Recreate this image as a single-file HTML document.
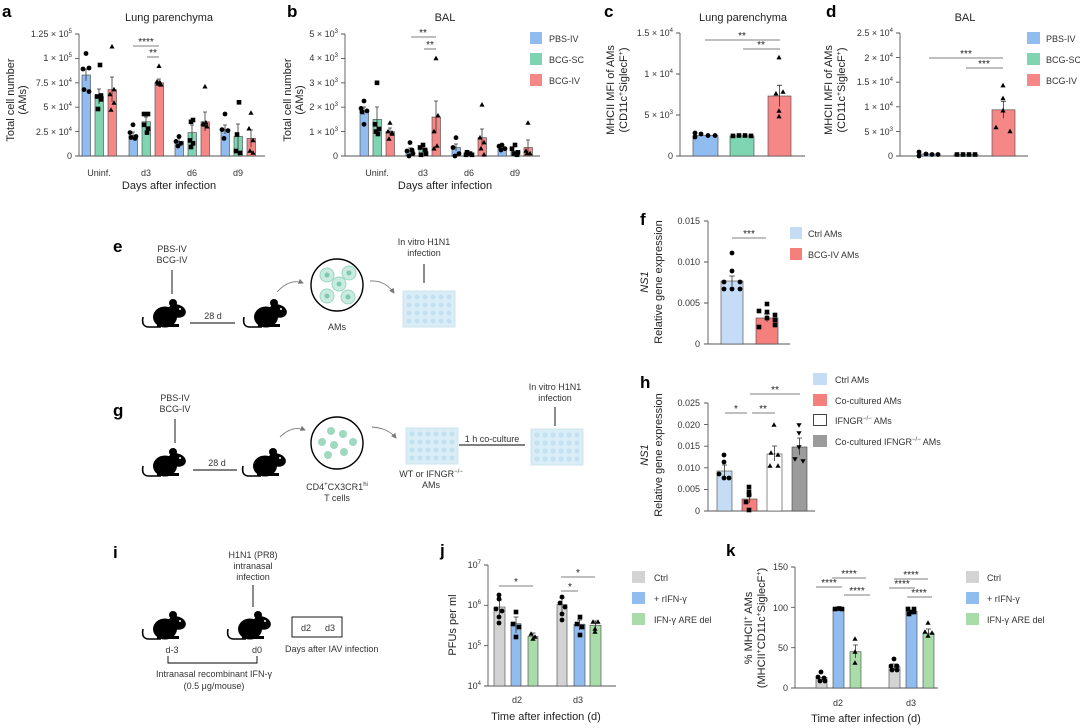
<!DOCTYPE html>
<html><head><meta charset="utf-8"><style>
html,body{margin:0;padding:0;background:#fff}
svg{display:block;font-family:"Liberation Sans",sans-serif}
.t{font-size:9px;fill:#333}
.l{font-size:11px;fill:#222}
.L{font-size:17px;font-weight:bold;fill:#000}
.s{font-size:10px;fill:#222}
.ax{stroke:#555;stroke-width:0.9;fill:none}
.eb{stroke:#333;stroke-width:0.8;fill:none}
.sig{stroke:#555;stroke-width:0.8}
</style></head><body>
<svg width="1080" height="728" viewBox="0 0 1080 728" xmlns="http://www.w3.org/2000/svg">
<defs>
<path id="tri" d="M0,-2.8 L2.6,1.8 L-2.6,1.8Z" fill="#000"/>
<path id="itri" d="M0,2.8 L2.6,-1.8 L-2.6,-1.8Z" fill="#000"/>
<rect id="sq" x="-2.3" y="-2.3" width="4.6" height="4.6" fill="#000"/>
<circle id="dot" r="2.4" fill="#000"/>
<g id="mouse">
<path d="M2,20 Q0,30 8,30 L20,30" stroke="#000" stroke-width="1.6" fill="none"/>
<ellipse cx="24" cy="20" rx="12" ry="10.5" fill="#000"/>
<ellipse cx="36" cy="14" rx="9" ry="6.5" transform="rotate(15 36 14)" fill="#000"/>
<circle cx="32" cy="6" r="4" fill="#000"/>
<rect x="16" y="27" width="22" height="3" fill="#000"/>
<circle cx="39" cy="12" r="1" fill="#fff"/>
</g>
<g id="plate">
<rect x="0" y="0" width="52" height="36" fill="#d9edf7" stroke="#cfe4ee"/>
<g fill="#c2e0ef">
<circle cx="6" cy="6" r="2.5"/><circle cx="14" cy="6" r="2.5"/><circle cx="22" cy="6" r="2.5"/><circle cx="30" cy="6" r="2.5"/><circle cx="38" cy="6" r="2.5"/><circle cx="46" cy="6" r="2.5"/>
<circle cx="6" cy="14" r="2.5"/><circle cx="14" cy="14" r="2.5"/><circle cx="22" cy="14" r="2.5"/><circle cx="30" cy="14" r="2.5"/><circle cx="38" cy="14" r="2.5"/><circle cx="46" cy="14" r="2.5"/>
<circle cx="6" cy="22" r="2.5"/><circle cx="14" cy="22" r="2.5"/><circle cx="22" cy="22" r="2.5"/><circle cx="30" cy="22" r="2.5"/><circle cx="38" cy="22" r="2.5"/><circle cx="46" cy="22" r="2.5"/>
<circle cx="6" cy="30" r="2.5"/><circle cx="14" cy="30" r="2.5"/><circle cx="22" cy="30" r="2.5"/><circle cx="30" cy="30" r="2.5"/><circle cx="38" cy="30" r="2.5"/><circle cx="46" cy="30" r="2.5"/>
</g></g>
<marker id="ar" markerWidth="6" markerHeight="6" refX="5" refY="3" orient="auto"><path d="M0,0 L6,3 L0,6Z" fill="#777"/></marker>
</defs>

<!-- ===== Panel a ===== -->
<text class="L" x="2" y="17">a</text>
<text class="l" x="169" y="21" text-anchor="middle" font-size="12">Lung parenchyma</text>
<g class="ax"><path d="M79,34 V156 H265"/><path d="M75,34H79M75,58.4H79M75,82.8H79M75,107.2H79M75,131.6H79M75,156H79"/></g>
<g class="t" text-anchor="end">
<text x="72" y="37">1.25 × 10<tspan font-size="6" dy="-4">5</tspan></text>
<text x="72" y="61">1 × 10<tspan font-size="6" dy="-4">5</tspan></text>
<text x="72" y="86">7.5 × 10<tspan font-size="6" dy="-4">4</tspan></text>
<text x="72" y="110">5 × 10<tspan font-size="6" dy="-4">4</tspan></text>
<text x="72" y="135">2.5 × 10<tspan font-size="6" dy="-4">4</tspan></text>
<text x="72" y="159">0</text></g>
<text class="l" transform="translate(14,100) rotate(-90)" text-anchor="middle">Total cell number</text>
<text class="l" transform="translate(26,100) rotate(-90)" text-anchor="middle">(AMs)</text>
<g class="t" text-anchor="middle" font-size="10"><text x="99" y="176">Uninf.</text><text x="146" y="176">d3</text><text x="192" y="176">d6</text><text x="238" y="176">d9</text></g>
<text class="l" x="169" y="189" text-anchor="middle" font-size="12">Days after infection</text>
<g stroke="#444" stroke-width="0.6">
<rect x="82" y="75" width="8.5" height="81" fill="#91bcef"/><rect x="95" y="96.5" width="8.5" height="59.5" fill="#7fd4b1"/><rect x="108" y="89.6" width="8.5" height="66.4" fill="#f58886"/>
<rect x="129" y="135.5" width="8.5" height="20.5" fill="#91bcef"/><rect x="142" y="121.8" width="8.5" height="34.2" fill="#7fd4b1"/><rect x="155" y="82.8" width="8.5" height="73.2" fill="#f58886"/>
<rect x="175" y="141.4" width="8.5" height="14.6" fill="#91bcef"/><rect x="188" y="132.6" width="8.5" height="23.4" fill="#7fd4b1"/><rect x="201" y="121.8" width="8.5" height="34.2" fill="#f58886"/>
<rect x="221" y="129.6" width="8.5" height="26.4" fill="#91bcef"/><rect x="234" y="136.5" width="8.5" height="19.5" fill="#7fd4b1"/><rect x="247" y="138.4" width="8.5" height="17.6" fill="#f58886"/>
</g>
<path class="eb" d="M86,69V81M84,69H88 M99,89V104M97,89H101 M112,77V102M110,77H114 M133,132V139M131,132H135 M146,117V127M144,117H148 M159,79V87M157,79H161 M179,138V145M177,138H181 M192,125V140M190,125H194 M205,112V131M203,112H207 M225,125V134M223,125H227 M238,124V149M236,124H240 M251,130V147M249,130H253"/>
<g>
<use href="#dot" x="86" y="53.5"/><use href="#dot" x="83" y="69"/><use href="#dot" x="89" y="68"/><use href="#dot" x="84" y="89.6"/><use href="#dot" x="89" y="91.6"/>
<use href="#sq" x="100" y="65"/><use href="#sq" x="97" y="96.5"/><use href="#sq" x="101" y="99.4"/><use href="#sq" x="98" y="109"/><use href="#sq" x="101" y="95.5"/>
<use href="#tri" x="112" y="46.7"/><use href="#tri" x="110" y="94.5"/><use href="#tri" x="114" y="103"/><use href="#tri" x="111" y="110"/><use href="#tri" x="114" y="89.6"/>
<use href="#dot" x="133" y="124.8"/><use href="#dot" x="130" y="132.6"/><use href="#dot" x="136" y="136.5"/><use href="#dot" x="131" y="137.5"/><use href="#dot" x="135" y="138.4"/>
<use href="#sq" x="144" y="114"/><use href="#sq" x="148" y="114"/><use href="#sq" x="144" y="124.8"/><use href="#sq" x="147" y="132.6"/><use href="#sq" x="148" y="128.7"/>
<use href="#tri" x="159" y="66.2"/><use href="#tri" x="157" y="81.8"/><use href="#tri" x="161" y="84.8"/><use href="#tri" x="158" y="83.8"/><use href="#tri" x="160" y="82.8"/>
<use href="#dot" x="179" y="136.5"/><use href="#dot" x="176" y="141.4"/><use href="#dot" x="181" y="143.3"/><use href="#dot" x="178" y="146"/>
<use href="#sq" x="193" y="120"/><use href="#sq" x="191" y="121.8"/><use href="#sq" x="190" y="140.4"/><use href="#sq" x="193" y="143.3"/><use href="#sq" x="191" y="147"/>
<use href="#tri" x="205" y="86.7"/><use href="#tri" x="203" y="123.8"/><use href="#tri" x="207" y="126.7"/><use href="#tri" x="204" y="124.8"/><use href="#tri" x="206" y="122.8"/>
<use href="#dot" x="225" y="114"/><use href="#dot" x="222" y="129.6"/><use href="#dot" x="228" y="130.6"/><use href="#dot" x="224" y="138.4"/>
<use href="#sq" x="239" y="102.3"/><use href="#sq" x="237" y="134.5"/><use href="#sq" x="236" y="151"/><use href="#sq" x="240" y="153"/>
<use href="#tri" x="251" y="113"/><use href="#tri" x="249" y="128.7"/><use href="#tri" x="253" y="140.4"/><use href="#tri" x="250" y="151"/><use href="#tri" x="253" y="153"/>
</g>
<line class="sig" x1="133" y1="46" x2="159" y2="46"/><text class="s" x="146" y="45" text-anchor="middle">****</text>
<line class="sig" x1="147" y1="57" x2="159" y2="57"/><text class="s" x="153" y="56" text-anchor="middle">**</text>

<!-- ===== Panel b ===== -->
<text class="L" x="287" y="17">b</text>
<text class="l" x="445" y="21" text-anchor="middle" font-size="12">BAL</text>
<g class="ax"><path d="M345,34 V156 H540"/><path d="M341,34H345M341,58.4H345M341,82.8H345M341,107.2H345M341,131.6H345M341,156H345"/></g>
<g class="t" text-anchor="end">
<text x="338" y="37">5 × 10<tspan font-size="6" dy="-4">3</tspan></text>
<text x="338" y="61">4 × 10<tspan font-size="6" dy="-4">3</tspan></text>
<text x="338" y="86">3 × 10<tspan font-size="6" dy="-4">3</tspan></text>
<text x="338" y="110">2 × 10<tspan font-size="6" dy="-4">3</tspan></text>
<text x="338" y="135">1 × 10<tspan font-size="6" dy="-4">3</tspan></text>
<text x="338" y="159">0</text></g>
<text class="l" transform="translate(291,100) rotate(-90)" text-anchor="middle">Total cell number</text>
<text class="l" transform="translate(303,100) rotate(-90)" text-anchor="middle">(AMs)</text>
<g class="t" text-anchor="middle" font-size="10"><text x="377" y="176">Uninf.</text><text x="423" y="176">d3</text><text x="469" y="176">d6</text><text x="515" y="176">d9</text></g>
<text class="l" x="445" y="189" text-anchor="middle" font-size="12">Days after infection</text>
<g stroke="#444" stroke-width="0.6">
<rect x="360" y="110.9" width="8.5" height="45.1" fill="#91bcef"/><rect x="373" y="119.4" width="8.5" height="36.6" fill="#7fd4b1"/><rect x="386" y="131.6" width="8.5" height="24.4" fill="#f58886"/>
<rect x="406" y="151" width="8.5" height="5" fill="#91bcef"/><rect x="419" y="148.7" width="8.5" height="7.3" fill="#7fd4b1"/><rect x="432" y="117" width="8.5" height="39" fill="#f58886"/>
<rect x="452" y="147.5" width="8.5" height="8.5" fill="#91bcef"/><rect x="465" y="153.6" width="8.5" height="2.4" fill="#7fd4b1"/><rect x="478" y="137.7" width="8.5" height="18.3" fill="#f58886"/>
<rect x="498" y="147.5" width="8.5" height="8.5" fill="#91bcef"/><rect x="511" y="151" width="8.5" height="5" fill="#7fd4b1"/><rect x="524" y="147.5" width="8.5" height="8.5" fill="#f58886"/>
</g>
<path class="eb" d="M364,107V115M362,107H366 M377,107V131M375,107H379 M390,128V134M388,128H392 M410,148V154M408,148H412 M423,146V151M421,146H425 M436,101V133M434,101H438 M456,144V151M454,144H458 M482,129V146M480,129H484 M528,140V155M526,140H530"/>
<g>
<use href="#dot" x="364" y="101"/><use href="#dot" x="361" y="108.4"/><use href="#dot" x="367" y="110.9"/><use href="#dot" x="362" y="112"/><use href="#dot" x="364" y="124.3"/>
<use href="#sq" x="377" y="82.8"/><use href="#sq" x="375" y="124.3"/><use href="#sq" x="379" y="129"/><use href="#sq" x="376" y="131.6"/><use href="#sq" x="378" y="134"/>
<use href="#tri" x="390" y="123"/><use href="#tri" x="388" y="131.6"/><use href="#tri" x="392" y="132.8"/><use href="#tri" x="389" y="139"/><use href="#tri" x="392" y="134"/>
<use href="#dot" x="410" y="142.6"/><use href="#dot" x="407" y="151"/><use href="#dot" x="413" y="153.6"/><use href="#dot" x="409" y="156"/><use href="#dot" x="412" y="150"/>
<use href="#sq" x="423" y="145"/><use href="#sq" x="420" y="147.5"/><use href="#sq" x="426" y="153.6"/><use href="#sq" x="421" y="154.8"/><use href="#sq" x="425" y="150"/>
<use href="#tri" x="436" y="58.4"/><use href="#tri" x="438" y="115.7"/><use href="#tri" x="434" y="131.6"/><use href="#tri" x="437" y="146"/><use href="#tri" x="434" y="148.7"/>
<use href="#dot" x="456" y="137.7"/><use href="#dot" x="453" y="147.5"/><use href="#dot" x="459" y="153.6"/><use href="#dot" x="455" y="156"/>
<use href="#sq" x="467" y="152.3"/><use href="#sq" x="470" y="153.6"/><use href="#sq" x="466" y="154.8"/><use href="#sq" x="472" y="154.8"/>
<use href="#tri" x="482" y="104.8"/><use href="#tri" x="480" y="137.7"/><use href="#tri" x="484" y="142.6"/><use href="#tri" x="481" y="148.7"/><use href="#tri" x="484" y="154.8"/>
<use href="#dot" x="502" y="145"/><use href="#dot" x="499" y="146.2"/><use href="#dot" x="505" y="148.7"/><use href="#dot" x="501" y="150"/>
<use href="#sq" x="515" y="145"/><use href="#sq" x="512" y="148.7"/><use href="#sq" x="518" y="152.3"/><use href="#sq" x="514" y="153.6"/><use href="#sq" x="517" y="154.8"/>
<use href="#tri" x="528" y="123"/><use href="#tri" x="526" y="151"/><use href="#tri" x="530" y="153.6"/><use href="#tri" x="527" y="153.6"/>
</g>
<line class="sig" x1="411" y1="37" x2="436" y2="37"/><text class="s" x="423" y="36" text-anchor="middle">**</text>
<line class="sig" x1="424" y1="49" x2="436" y2="49"/><text class="s" x="430" y="48" text-anchor="middle">**</text>
<g class="t" font-size="10">
<rect x="530" y="32" width="12" height="12" fill="#91bcef"/><text x="549" y="42">PBS-IV</text>
<rect x="530" y="53" width="12" height="12" fill="#7fd4b1"/><text x="549" y="63">BCG-SC</text>
<rect x="530" y="74" width="12" height="12" fill="#f58886"/><text x="549" y="84">BCG-IV</text></g>

<!-- ===== Panel c ===== -->
<text class="L" x="604" y="17">c</text>
<text class="l" x="743" y="21" text-anchor="middle" font-size="12">Lung parenchyma</text>
<g class="ax"><path d="M680,33 V156 H805"/><path d="M676,33H680M676,74H680M676,115H680M676,156H680"/></g>
<g class="t" text-anchor="end">
<text x="673" y="36">1.5 × 10<tspan font-size="6" dy="-4">4</tspan></text>
<text x="673" y="77">1 × 10<tspan font-size="6" dy="-4">4</tspan></text>
<text x="673" y="118">5 × 10<tspan font-size="6" dy="-4">3</tspan></text>
<text x="673" y="159">0</text></g>
<text class="l" transform="translate(614,90) rotate(-90)" text-anchor="middle">MHCII MFI of AMs</text>
<text class="l" transform="translate(627,90) rotate(-90)" text-anchor="middle">(CD11c<tspan font-size="7" dy="-4">+</tspan><tspan dy="4">SiglecF</tspan><tspan font-size="7" dy="-4">+</tspan><tspan dy="4">)</tspan></text>
<g stroke="#444" stroke-width="0.6">
<rect x="693" y="135.5" width="25" height="20.5" fill="#91bcef"/><rect x="730" y="135.9" width="24" height="20.1" fill="#7fd4b1"/><rect x="768" y="96" width="23" height="60" fill="#f58886"/></g>
<path class="eb" d="M779.5,85.3V106.6M777,85.3H782"/>
<g>
<use href="#dot" x="695" y="137"/><use href="#dot" x="695" y="133"/><use href="#dot" x="701" y="134"/><use href="#dot" x="708" y="135.5"/><use href="#dot" x="715" y="135.5"/>
<use href="#sq" x="733" y="135.9"/><use href="#sq" x="739" y="135.5"/><use href="#sq" x="745" y="135.5"/><use href="#sq" x="751" y="135.9"/>
<use href="#tri" x="779" y="57.6"/><use href="#tri" x="776" y="93.7"/><use href="#tri" x="783" y="92"/><use href="#tri" x="779" y="111"/><use href="#tri" x="779" y="116.6"/></g>
<line class="sig" x1="705" y1="40" x2="780" y2="40"/><text class="s" x="742" y="39" text-anchor="middle">**</text>
<line class="sig" x1="743" y1="49" x2="780" y2="49"/><text class="s" x="761" y="48" text-anchor="middle">**</text>

<!-- ===== Panel d ===== -->
<text class="L" x="826" y="17">d</text>
<text class="l" x="965" y="21" text-anchor="middle" font-size="12">BAL</text>
<g class="ax"><path d="M900,33 V156 H1028"/><path d="M896,33H900M896,57.6H900M896,82.2H900M896,106.8H900M896,131.4H900M896,156H900"/></g>
<g class="t" text-anchor="end">
<text x="893" y="36">2.5 × 10<tspan font-size="6" dy="-4">4</tspan></text>
<text x="893" y="61">2 × 10<tspan font-size="6" dy="-4">4</tspan></text>
<text x="893" y="85">1.5 × 10<tspan font-size="6" dy="-4">4</tspan></text>
<text x="893" y="110">1 × 10<tspan font-size="6" dy="-4">4</tspan></text>
<text x="893" y="135">5 × 10<tspan font-size="6" dy="-4">3</tspan></text>
<text x="893" y="159">0</text></g>
<text class="l" transform="translate(832,90) rotate(-90)" text-anchor="middle">MHCII MFI of AMs</text>
<text class="l" transform="translate(845,90) rotate(-90)" text-anchor="middle">(CD11c<tspan font-size="7" dy="-4">+</tspan><tspan dy="4">SiglecF</tspan><tspan font-size="7" dy="-4">+</tspan><tspan dy="4">)</tspan></text>
<g stroke="#444" stroke-width="0.6">
<rect x="918" y="154" width="22" height="2" fill="#91bcef"/><rect x="954" y="154.5" width="24" height="1.5" fill="#7fd4b1"/><rect x="992" y="109.8" width="23" height="46.2" fill="#f58886"/></g>
<path class="eb" d="M1003.5,101.4V118.2M1001,101.4H1006"/>
<g>
<use href="#dot" x="919" y="152"/><use href="#dot" x="919" y="156"/><use href="#dot" x="926" y="154"/><use href="#dot" x="932" y="154.5"/><use href="#dot" x="938" y="154.5"/>
<use href="#sq" x="957" y="154.5"/><use href="#sq" x="963" y="154.5"/><use href="#sq" x="969" y="154.5"/><use href="#sq" x="975" y="154.5"/>
<use href="#tri" x="1003" y="85.6"/><use href="#tri" x="1003" y="98.4"/><use href="#tri" x="1003" y="110.7"/><use href="#tri" x="996" y="127.5"/><use href="#tri" x="1010" y="131.4"/></g>
<line class="sig" x1="929" y1="58" x2="1003" y2="58"/><text class="s" x="966" y="57" text-anchor="middle">***</text>
<line class="sig" x1="966" y1="68" x2="1003" y2="68"/><text class="s" x="984" y="67" text-anchor="middle">***</text>
<g class="t" font-size="10">
<rect x="1027" y="32" width="13" height="12" fill="#91bcef"/><text x="1046" y="42">PBS-IV</text>
<rect x="1027" y="53" width="13" height="12" fill="#7fd4b1"/><text x="1046" y="63">BCG-SC</text>
<rect x="1027" y="74" width="13" height="12" fill="#f58886"/><text x="1046" y="84">BCG-IV</text></g>

<!-- ===== Panel e ===== -->
<text class="L" x="113" y="252">e</text>
<g class="t" text-anchor="middle" font-size="9"><text x="172" y="252">PBS-IV</text><text x="172" y="263">BCG-IV</text></g>
<line x1="172" y1="270" x2="172" y2="294" stroke="#000" stroke-width="0.9"/>
<use href="#mouse" x="141" y="297"/>
<line x1="190" y1="323" x2="235" y2="323" stroke="#000" stroke-width="0.9"/><text class="t" x="213" y="319" text-anchor="middle">28 d</text>
<use href="#mouse" x="242" y="297"/>
<path d="M277,292 Q290,278 303,283" stroke="#777" fill="none" stroke-width="0.9" marker-end="url(#ar)"/>
<circle cx="337" cy="285" r="26" fill="#fff" stroke="#000" stroke-width="1.4"/>
<g fill="#c9ebe0" stroke="#9bd6c3"><circle cx="327" cy="275" r="7"/><circle cx="349" cy="273" r="7"/><circle cx="339" cy="284" r="7"/><circle cx="327" cy="296" r="7"/><circle cx="348" cy="297" r="7"/></g>
<g fill="#7fc9ad"><circle cx="327" cy="275" r="2.5"/><circle cx="349" cy="273" r="2.5"/><circle cx="339" cy="284" r="2.5"/><circle cx="327" cy="296" r="2.5"/><circle cx="348" cy="297" r="2.5"/></g>
<text class="t" x="337" y="330" text-anchor="middle">AMs</text>
<path d="M370,281 Q385,280 394,293" stroke="#777" fill="none" stroke-width="0.9" marker-end="url(#ar)"/>
<use href="#plate" x="403" y="291"/>
<g class="t" text-anchor="middle"><text x="424" y="245">In vitro H1N1</text><text x="424" y="256">infection</text></g>
<line x1="424" y1="264" x2="424" y2="283" stroke="#000" stroke-width="0.9"/>

<!-- ===== Panel f ===== -->
<text class="L" x="640" y="225">f</text>
<g class="ax"><path d="M708,221 V344 H790"/><path d="M704,221H708M704,262H708M704,303H708M704,344H708"/></g>
<g class="t" text-anchor="end"><text x="700" y="224">0.015</text><text x="700" y="265">0.010</text><text x="700" y="306">0.005</text><text x="700" y="347">0</text></g>
<text class="l" transform="translate(648,282) rotate(-90)" text-anchor="middle" font-style="italic">NS1</text>
<text class="l" transform="translate(662,282) rotate(-90)" text-anchor="middle">Relative gene expression</text>
<g stroke="#444" stroke-width="0.6"><rect x="721" y="281" width="22" height="63" fill="#c4dcf5"/><rect x="756" y="318" width="22" height="26" fill="#f47f7d"/></g>
<path class="eb" d="M732,276V286M729,276H735 M767,314V322M764,314H770"/>
<g><use href="#dot" x="732" y="253"/><use href="#dot" x="732" y="271"/><use href="#dot" x="740" y="282"/><use href="#dot" x="724" y="282"/><use href="#dot" x="724" y="289"/><use href="#dot" x="732" y="289"/><use href="#dot" x="740" y="289"/>
<use href="#sq" x="767" y="304"/><use href="#sq" x="759" y="311"/><use href="#sq" x="767" y="312"/><use href="#sq" x="775" y="315"/><use href="#sq" x="767" y="318"/><use href="#sq" x="759" y="327"/><use href="#sq" x="775" y="325"/><use href="#sq" x="775" y="320"/></g>
<line class="sig" x1="732" y1="238" x2="766" y2="238"/><text class="s" x="749" y="237" text-anchor="middle">***</text>
<g class="t" font-size="10"><rect x="790" y="227" width="12" height="12" fill="#c4dcf5"/><text x="808" y="237">Ctrl AMs</text>
<rect x="790" y="248" width="12" height="12" fill="#f47f7d"/><text x="808" y="258">BCG-IV AMs</text></g>

<!-- ===== Panel g ===== -->
<text class="L" x="113" y="416">g</text>
<g class="t" text-anchor="middle"><text x="175" y="401">PBS-IV</text><text x="175" y="412">BCG-IV</text></g>
<line x1="175" y1="419" x2="175" y2="443" stroke="#000" stroke-width="0.9"/>
<use href="#mouse" x="141" y="446"/>
<line x1="193" y1="470" x2="237" y2="470" stroke="#000" stroke-width="0.9"/><text class="t" x="217" y="466" text-anchor="middle">28 d</text>
<use href="#mouse" x="241" y="446"/>
<path d="M280,437 Q292,425 305,430" stroke="#777" fill="none" stroke-width="0.9" marker-end="url(#ar)"/>
<circle cx="337" cy="443" r="26" fill="#fff" stroke="#000" stroke-width="1.4"/>
<g fill="#9fd9bf"><circle cx="331" cy="431" r="4"/><circle cx="343" cy="434" r="4"/><circle cx="322" cy="442" r="4"/><circle cx="334" cy="445" r="4"/><circle cx="353" cy="442" r="4"/><circle cx="328" cy="455" r="4"/><circle cx="344" cy="452" r="4"/></g>
<g class="t" text-anchor="middle"><text x="337" y="490">CD4<tspan font-size="6" dy="-4">+</tspan><tspan dy="4">CX3CR1</tspan><tspan font-size="6" dy="-4">hi</tspan></text><text x="337" y="501">T cells</text></g>
<path d="M372,427 Q388,428 396,438" stroke="#777" fill="none" stroke-width="0.9" marker-end="url(#ar)"/>
<use href="#plate" x="406" y="428"/>
<g class="t" text-anchor="middle"><text x="431" y="477">WT or IFNGR<tspan font-size="6" dy="-4">−/−</tspan></text><text x="431" y="488">AMs</text></g>
<line x1="459" y1="445" x2="525" y2="445" stroke="#000" stroke-width="0.9"/><text class="t" x="492" y="442" text-anchor="middle">1 h co-culture</text>
<use href="#plate" x="531" y="429"/>
<g class="t" text-anchor="middle"><text x="555" y="390">In vitro H1N1</text><text x="555" y="401">infection</text></g>
<line x1="555" y1="407" x2="555" y2="426" stroke="#000" stroke-width="0.9"/>

<!-- ===== Panel h ===== -->
<text class="L" x="640" y="388">h</text>
<g class="ax"><path d="M708,403 V511 H815"/><path d="M704,403H708M704,424.6H708M704,446.2H708M704,467.8H708M704,489.4H708M704,511H708"/></g>
<g class="t" text-anchor="end"><text x="700" y="406">0.025</text><text x="700" y="428">0.020</text><text x="700" y="449">0.015</text><text x="700" y="471">0.010</text><text x="700" y="492">0.005</text><text x="700" y="514">0</text></g>
<text class="l" transform="translate(648,455) rotate(-90)" text-anchor="middle" font-style="italic">NS1</text>
<text class="l" transform="translate(662,455) rotate(-90)" text-anchor="middle">Relative gene expression</text>
<g stroke="#444" stroke-width="0.6"><rect x="717" y="471" width="15" height="40" fill="#c4dcf5"/><rect x="742" y="499" width="15" height="12" fill="#f47f7d"/><rect x="767" y="454" width="15" height="57" fill="#fff"/><rect x="792" y="447" width="15" height="64" fill="#9b9b9b"/></g>
<path class="eb" d="M724.5,465V477M722,465H727 M749.5,495V503M747,495H752 M774.5,446V461M772,446H777 M799.5,438V455M797,438H802"/>
<g><use href="#dot" x="724" y="455"/><use href="#dot" x="724" y="462"/><use href="#dot" x="719" y="474"/><use href="#dot" x="724" y="478"/><use href="#dot" x="729" y="478"/>
<use href="#sq" x="749" y="487"/><use href="#sq" x="749" y="492"/><use href="#sq" x="749" y="495"/><use href="#sq" x="746" y="502"/><use href="#sq" x="749" y="510"/>
<use href="#tri" x="774" y="425"/><use href="#tri" x="771" y="453"/><use href="#tri" x="778" y="455"/><use href="#tri" x="770" y="466"/><use href="#tri" x="778" y="466"/>
<use href="#itri" x="799" y="425"/><use href="#itri" x="799" y="433"/><use href="#itri" x="799" y="447"/><use href="#itri" x="795" y="459"/><use href="#itri" x="803" y="461"/></g>
<line class="sig" x1="725" y1="413" x2="747" y2="413"/><text class="s" x="736" y="412" text-anchor="middle">*</text>
<line class="sig" x1="752" y1="413" x2="775" y2="413"/><text class="s" x="763" y="412" text-anchor="middle">**</text>
<line class="sig" x1="750" y1="394" x2="800" y2="394"/><text class="s" x="775" y="393" text-anchor="middle">**</text>
<g class="t" font-size="10"><rect x="813" y="373" width="14" height="12" fill="#c4dcf5"/><text x="835" y="383">Ctrl AMs</text>
<rect x="813" y="394" width="14" height="12" fill="#f47f7d"/><text x="835" y="404">Co-cultured AMs</text>
<rect x="813.5" y="414.5" width="13" height="11" fill="#fff" stroke="#444"/><text x="835" y="424">IFNGR<tspan font-size="6" dy="-4">−/−</tspan><tspan dy="4"> AMs</tspan></text>
<rect x="813" y="435" width="14" height="12" fill="#9b9b9b"/><text x="835" y="445">Co-cultured IFNGR<tspan font-size="6" dy="-4">−/−</tspan><tspan dy="4"> AMs</tspan></text></g>

<!-- ===== Panel i ===== -->
<text class="L" x="113" y="558">i</text>
<g class="t" text-anchor="middle"><text x="253" y="558">H1N1 (PR8)</text><text x="253" y="569">intranasal</text><text x="253" y="580">infection</text></g>
<line x1="253" y1="585" x2="253" y2="607" stroke="#000" stroke-width="0.9"/>
<use href="#mouse" x="141" y="609"/>
<use href="#mouse" x="226" y="609"/>
<g class="t" text-anchor="middle"><text x="172" y="653">d-3</text><text x="257" y="653">d0</text></g>
<path d="M168,656V663H257V656" stroke="#000" stroke-width="0.9" fill="none"/>
<g class="t" text-anchor="middle"><text x="214" y="677">Intranasal recombinant IFN-γ</text><text x="214" y="689">(0.5 μg/mouse)</text></g>
<rect x="292" y="617" width="50" height="20" fill="#fff" stroke="#000" stroke-width="0.9"/>
<g class="t" text-anchor="middle"><text x="306" y="631">d2</text><text x="330" y="631">d3</text></g>
<text class="t" x="285" y="652">Days after IAV infection</text>

<!-- ===== Panel j ===== -->
<text class="L" x="440" y="556">j</text>
<g class="ax"><path d="M488,565 V686 H616"/><path d="M484,565H488M484,605.3H488M484,645.7H488M484,686H488"/></g>
<g class="t" text-anchor="end"><text x="481" y="568">10<tspan font-size="6" dy="-4">7</tspan></text><text x="481" y="608">10<tspan font-size="6" dy="-4">6</tspan></text><text x="481" y="649">10<tspan font-size="6" dy="-4">5</tspan></text><text x="481" y="689">10<tspan font-size="6" dy="-4">4</tspan></text></g>
<text class="l" transform="translate(456,625) rotate(-90)" text-anchor="middle">PFUs per ml</text>
<g stroke="#444" stroke-width="0.6">
<rect x="494" y="607" width="11" height="79" fill="#d3d3d3"/><rect x="511" y="623.7" width="10" height="62.3" fill="#91bcef"/><rect x="528" y="636.4" width="10" height="49.6" fill="#a9dca9"/>
<rect x="557" y="604.5" width="10" height="81.5" fill="#d3d3d3"/><rect x="574" y="624.2" width="11" height="61.8" fill="#91bcef"/><rect x="590" y="625.2" width="11" height="60.8" fill="#a9dca9"/></g>
<path class="eb" d="M499.5,600V615M497,600H502 M516,617V633M513.5,617H518.5 M533,633V640M530.5,633H535.5 M562,598V612M559.5,598H564.5 M579.5,620V630M577,620H582 M595.5,621V630M593,621H598"/>
<g><use href="#dot" x="499" y="595"/><use href="#dot" x="499" y="599"/><use href="#dot" x="496" y="609"/><use href="#dot" x="502" y="611"/><use href="#dot" x="499" y="617"/><use href="#dot" x="499" y="623"/>
<use href="#sq" x="516" y="612"/><use href="#sq" x="513" y="624"/><use href="#sq" x="519" y="627"/><use href="#sq" x="516" y="637"/>
<use href="#tri" x="531" y="634"/><use href="#tri" x="535" y="637"/><use href="#tri" x="533" y="639"/>
<use href="#dot" x="562" y="597"/><use href="#dot" x="560" y="603"/><use href="#dot" x="565" y="607"/><use href="#dot" x="562" y="614"/><use href="#dot" x="562" y="620"/>
<use href="#sq" x="580" y="617"/><use href="#sq" x="577" y="624"/><use href="#sq" x="582" y="627"/><use href="#sq" x="580" y="635"/>
<use href="#tri" x="593" y="622"/><use href="#tri" x="598" y="622"/><use href="#tri" x="595" y="629"/><use href="#tri" x="595" y="632"/></g>
<line class="sig" x1="499" y1="586" x2="533" y2="586"/><text class="s" x="516" y="585" text-anchor="middle">*</text>
<line class="sig" x1="561" y1="591" x2="578" y2="591"/><text class="s" x="570" y="590" text-anchor="middle">*</text>
<line class="sig" x1="561" y1="577" x2="595" y2="577"/><text class="s" x="578" y="576" text-anchor="middle">*</text>
<g class="t" text-anchor="middle" font-size="10"><text x="517" y="703">d2</text><text x="578" y="703">d3</text></g>
<text class="l" x="546" y="720" text-anchor="middle" font-size="12">Time after infection (d)</text>
<g class="t" font-size="10"><rect x="632" y="571" width="13" height="12" fill="#d3d3d3"/><text x="654" y="581">Ctrl</text>
<rect x="632" y="592" width="13" height="12" fill="#91bcef"/><text x="654" y="602">+ rIFN-γ</text>
<rect x="632" y="613" width="13" height="12" fill="#a9dca9"/><text x="654" y="623">IFN-γ ARE del</text></g>

<!-- ===== Panel k ===== -->
<text class="L" x="726" y="556">k</text>
<g class="ax"><path d="M795,567 V688 H938"/><path d="M791,567H795M791,607.3H795M791,647.7H795M791,688H795"/></g>
<g class="t" text-anchor="end"><text x="788" y="570">150</text><text x="788" y="611">100</text><text x="788" y="651">50</text><text x="788" y="691">0</text></g>
<text class="l" transform="translate(752,628) rotate(-90)" text-anchor="middle">% MHCII<tspan font-size="7" dy="-4">+</tspan><tspan dy="4"> AMs</tspan></text>
<text class="l" transform="translate(765,628) rotate(-90)" text-anchor="middle">(MHCII<tspan font-size="7" dy="-4">+</tspan><tspan dy="4">CD11c</tspan><tspan font-size="7" dy="-4">+</tspan><tspan dy="4">SiglecF</tspan><tspan font-size="7" dy="-4">+</tspan><tspan dy="4">)</tspan></text>
<g stroke="#444" stroke-width="0.6">
<rect x="816" y="677.5" width="11" height="10.5" fill="#d3d3d3"/><rect x="833" y="608.9" width="11" height="79.1" fill="#91bcef"/><rect x="850" y="651.7" width="11" height="36.3" fill="#a9dca9"/>
<rect x="889" y="667" width="11" height="21" fill="#d3d3d3"/><rect x="906" y="611.3" width="11" height="76.7" fill="#91bcef"/><rect x="923" y="633.1" width="11" height="54.9" fill="#a9dca9"/></g>
<path class="eb" d="M855.5,645V658M853,645H858 M928.5,629V637M926,629H931 M894.5,664V670M892,664H897"/>
<g><use href="#dot" x="821" y="672"/><use href="#dot" x="818" y="677"/><use href="#dot" x="824" y="678"/><use href="#dot" x="820" y="681"/><use href="#dot" x="825" y="681"/>
<use href="#sq" x="835" y="609"/><use href="#sq" x="839" y="608.5"/><use href="#sq" x="842" y="609"/>
<use href="#tri" x="855" y="639"/><use href="#tri" x="855" y="652"/><use href="#tri" x="855" y="663"/>
<use href="#dot" x="894" y="659"/><use href="#dot" x="891" y="666"/><use href="#dot" x="897" y="666"/><use href="#dot" x="892" y="670"/><use href="#dot" x="897" y="670"/>
<use href="#sq" x="908" y="609"/><use href="#sq" x="911" y="612"/><use href="#sq" x="914" y="612"/><use href="#sq" x="909" y="614"/><use href="#sq" x="914" y="609"/>
<use href="#tri" x="928" y="623"/><use href="#tri" x="925" y="632"/><use href="#tri" x="932" y="633"/><use href="#tri" x="928" y="636"/></g>
<g class="s" text-anchor="middle" font-size="9">
<line class="sig" x1="832" y1="578" x2="866" y2="578"/><text x="849" y="577">****</text>
<line class="sig" x1="816" y1="587" x2="842" y2="587"/><text x="829" y="586">****</text>
<line class="sig" x1="844" y1="595" x2="870" y2="595"/><text x="857" y="594">****</text>
<line class="sig" x1="894" y1="579" x2="928" y2="579"/><text x="911" y="578">****</text>
<line class="sig" x1="889" y1="588" x2="915" y2="588"/><text x="902" y="587">****</text>
<line class="sig" x1="907" y1="597" x2="932" y2="597"/><text x="919" y="596">****</text></g>
<g class="t" text-anchor="middle" font-size="10"><text x="838" y="706">d2</text><text x="911" y="706">d3</text></g>
<text class="l" x="866" y="722" text-anchor="middle" font-size="12">Time after infection (d)</text>
<g class="t" font-size="10"><rect x="966" y="571" width="13" height="12" fill="#d3d3d3"/><text x="987" y="581">Ctrl</text>
<rect x="966" y="592" width="13" height="12" fill="#91bcef"/><text x="987" y="602">+ rIFN-γ</text>
<rect x="966" y="613" width="13" height="12" fill="#a9dca9"/><text x="987" y="623">IFN-γ ARE del</text></g>
</svg>
</body></html>
